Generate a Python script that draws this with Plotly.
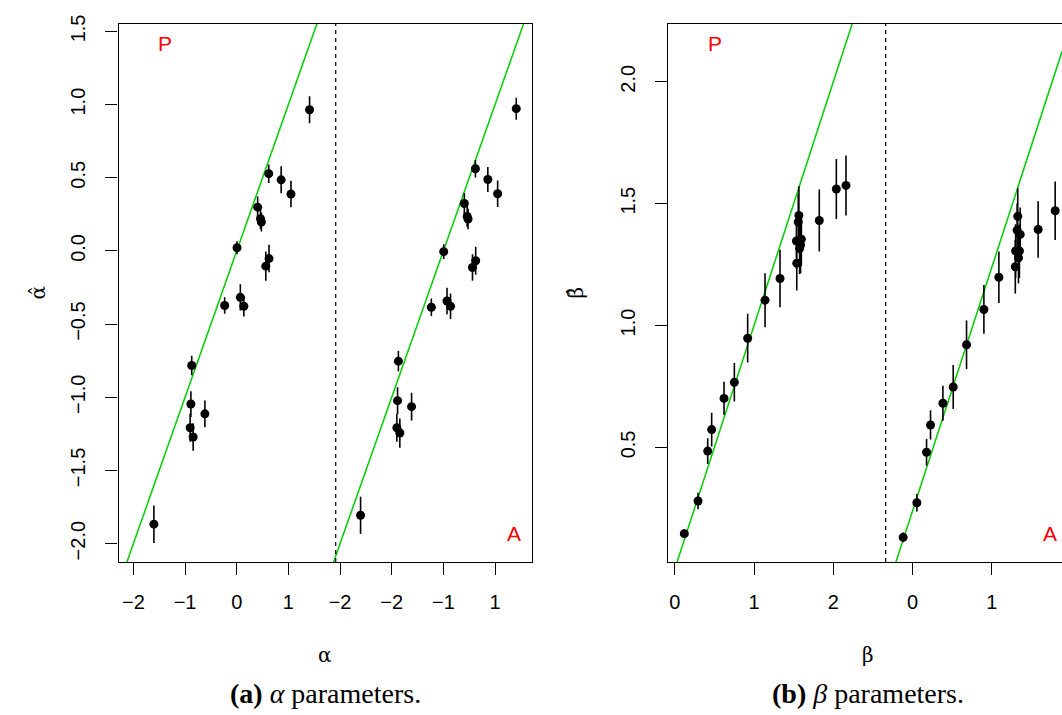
import plotly.graph_objects as go

# ---- alpha parameters (true values shared by both estimators) ----
alpha_true = [1.41, 0.62, 0.86, 1.05, 0.405, 0.46, 0.477, 0.006, 0.625, 0.563,
              -0.233, 0.07, 0.138, -0.871, -0.887, -0.616, -0.901, -0.843, -1.603]
alpha_hat_P = [0.965, 0.528, 0.486, 0.389, 0.299, 0.220, 0.198, 0.022, -0.052, -0.104,
               -0.373, -0.317, -0.378, -0.783, -1.046, -1.113, -1.208, -1.271, -1.867]
alpha_err_P = [0.092, 0.063, 0.092, 0.090, 0.073, 0.070, 0.065, 0.045, 0.094, 0.100,
               0.056, 0.090, 0.070, 0.067, 0.088, 0.092, 0.095, 0.094, 0.128]
alpha_hat_A = [0.972, 0.562, 0.488, 0.391, 0.324, 0.236, 0.218, -0.005, -0.067, -0.113,
               -0.385, -0.342, -0.378, -0.753, -1.023, -1.064, -1.208, -1.244, -1.806]
alpha_err_A = [0.075, 0.060, 0.085, 0.090, 0.070, 0.070, 0.070, 0.050, 0.095, 0.090,
               0.060, 0.090, 0.087, 0.070, 0.092, 0.095, 0.095, 0.100, 0.127]
alpha_shift = 4.0
alpha_split = 1.916

# ---- beta parameters ----
beta_true = [0.121, 0.294, 0.416, 0.466, 0.622, 0.752, 0.920, 1.139, 1.328,
             1.535, 1.539, 1.558, 1.566, 1.575, 1.587, 1.597, 1.823, 2.038, 2.160]
beta_hat_P = [0.146, 0.280, 0.485, 0.573, 0.701, 0.767, 0.948, 1.104, 1.193,
              1.347, 1.256, 1.425, 1.452, 1.316, 1.330, 1.354, 1.431, 1.560, 1.575]
beta_err_P = [0.018, 0.034, 0.053, 0.069, 0.068, 0.079, 0.100, 0.111, 0.118,
              0.115, 0.112, 0.115, 0.120, 0.105, 0.115, 0.110, 0.127, 0.123, 0.123]
beta_hat_A = [0.131, 0.273, 0.480, 0.592, 0.681, 0.748, 0.921, 1.066, 1.198,
              1.241, 1.306, 1.391, 1.448, 1.278, 1.306, 1.374, 1.394, 1.471, 1.537]
beta_err_A = [0.020, 0.036, 0.055, 0.060, 0.072, 0.090, 0.100, 0.100, 0.106,
              0.110, 0.110, 0.110, 0.115, 0.105, 0.110, 0.110, 0.116, 0.120, 0.120]
beta_shift = 2.76
beta_split = 2.66

alpha_xticks = [-2, -1, 0, 1, 2, 3, 4, 5]
alpha_xlabels = ["\u22122", "\u22121", "0", "1", "\u22122", "\u22122", "\u22121", "1"]
alpha_yticks = [-2.0, -1.5, -1.0, -0.5, 0.0, 0.5, 1.0, 1.5]
alpha_ylabels = ["\u22122.0", "\u22121.5", "\u22121.0", "\u22120.5", "0.0", "0.5", "1.0", "1.5"]
beta_xticks = [0, 1, 2, 3, 4, 5]
beta_xlabels = ["0", "1", "2", "0", "1", "2"]
beta_yticks = [0.5, 1.0, 1.5, 2.0]
beta_ylabels = ["0.5", "1.0", "1.5", "2.0"]

W, H = 1062, 715
alpha_xrange = [-2.288, 5.709]
alpha_yrange = [-2.125, 1.552]
beta_xrange = [-0.081, 4.884]
beta_yrange = [0.030, 2.238]

GREEN = "#00CD00"
TICKFONT = dict(family="Liberation Sans, Arial, sans-serif", size=20, color="black")

fig = go.Figure()


def add_panel(fig, xa, ya, xs, hatP, errP, hatA, errA, shift, xr, clip_last):
    # reference lines y = x (P block) and y = x - shift (A block)
    fig.add_trace(go.Scatter(x=xr, y=xr, mode="lines", xaxis=xa, yaxis=ya,
                             line=dict(color=GREEN, width=1.5), showlegend=False,
                             hoverinfo="skip"))
    fig.add_trace(go.Scatter(x=xr, y=[v - shift for v in xr], mode="lines",
                             xaxis=xa, yaxis=ya, line=dict(color=GREEN, width=1.5),
                             showlegend=False, hoverinfo="skip"))
    fig.add_trace(go.Scatter(x=xs, y=hatP, mode="markers", xaxis=xa, yaxis=ya,
                             marker=dict(color="black", size=9),
                             error_y=dict(type="data", array=errP, color="black",
                                          thickness=1.6, width=0),
                             showlegend=False))
    fig.add_trace(go.Scatter(x=[v + shift for v in xs], y=hatA, mode="markers",
                             xaxis=xa, yaxis=ya, cliponaxis=not clip_last,
                             marker=dict(color="black", size=9),
                             error_y=dict(type="data", array=errA, color="black",
                                          thickness=1.6, width=0),
                             showlegend=False))


add_panel(fig, "x", "y", alpha_true, alpha_hat_P, alpha_err_P, alpha_hat_A,
          alpha_err_A, alpha_shift, alpha_xrange, False)
add_panel(fig, "x2", "y2", beta_true, beta_hat_P, beta_err_P, beta_hat_A,
          beta_err_A, beta_shift, beta_xrange, True)

# dashed separators between the P and A blocks
for xref, yref, xv in (("x", "y domain", alpha_split), ("x2", "y2 domain", beta_split)):
    fig.add_shape(type="line", xref=xref, yref=yref, x0=xv, x1=xv, y0=0, y1=1,
                  line=dict(color="black", width=1.2, dash="4px,4px"))

ydom = [1 - 560 / H, 1 - 15 / H]
axis_common = dict(showgrid=False, zeroline=False, showline=True, linecolor="black",
                   linewidth=1.2, ticks="outside", ticklen=12, tickwidth=1.2,
                   tickcolor="black", tickfont=TICKFONT)

fig.update_layout(
    width=W, height=H,
    margin=dict(l=0, r=0, t=0, b=0),
    paper_bgcolor="white", plot_bgcolor="white",
    xaxis=dict(domain=[118.5 / W, 531.7 / W], range=alpha_xrange, anchor="y",
               tickvals=alpha_xticks, ticktext=alpha_xlabels, mirror=True,
               ticklabelstandoff=10, **axis_common),
    yaxis=dict(domain=ydom, range=alpha_yrange, anchor="x", tickangle=-90,
               tickvals=alpha_yticks, ticktext=alpha_ylabels, mirror=True,
               ticklabelstandoff=12, **axis_common),
    xaxis2=dict(domain=[668.3 / W, 1.0], range=beta_xrange, anchor="y2",
                tickvals=beta_xticks, ticktext=beta_xlabels, mirror=True,
                ticklabelstandoff=10, **axis_common),
    yaxis2=dict(domain=ydom, range=beta_yrange, anchor="x2", tickangle=-90,
                tickvals=beta_yticks, ticktext=beta_ylabels, mirror=False,
                ticklabelstandoff=12, **axis_common),
)

# block labels
RED = dict(family="Liberation Sans, Arial, sans-serif", size=21, color="#FF0000")
for xref, yref, (px, py), txt in (
    ("x domain", "y domain", (0.112, 0.963), "P"),
    ("x domain", "y domain", (0.957, 0.052), "A"),
    ("x2 domain", "y2 domain", (0.118, 0.963), "P"),
    ("x2 domain", "y2 domain", (0.97, 0.052), "A"),
):
    fig.add_annotation(xref=xref, yref=yref, x=px, y=py, text=txt, showarrow=False,
                       font=RED, xanchor="center", yanchor="middle")

# axis titles
GREEK = dict(family="DejaVu Serif, serif", size=20, color="black")
titles = (
    (38, 287, "\u03b1\u0302", -90),
    (576, 287, "\u03b2\u0302", -90),
    (325, 654, "\u03b1", 0),
    (868, 654, "\u03b2", 0),
)
for px, py, txt, ang in titles:
    fig.add_annotation(xref="paper", yref="paper", x=px / W, y=1 - py / H, text=txt,
                       textangle=ang, showarrow=False, font=GREEK,
                       xanchor="center", yanchor="middle")

# sub-figure captions
CAP = dict(family="Liberation Serif, Times New Roman, serif", size=28, color="black")
fig.add_annotation(xref="paper", yref="paper", x=325 / W, y=1 - 693 / H,
                   text="<b>(a)</b> <i>\u03b1</i> parameters.", showarrow=False, font=CAP,
                   xanchor="center", yanchor="middle")
fig.add_annotation(xref="paper", yref="paper", x=868 / W, y=1 - 693 / H,
                   text="<b>(b)</b> <i>\u03b2</i> parameters.", showarrow=False, font=CAP,
                   xanchor="center", yanchor="middle")

fig.write_html("out.html")
